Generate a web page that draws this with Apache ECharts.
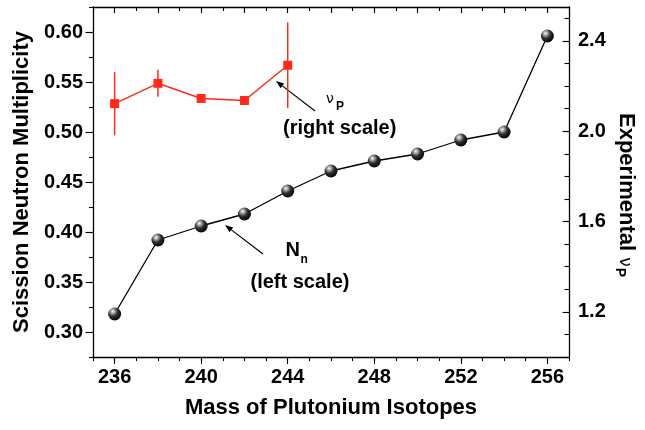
<!DOCTYPE html>
<html>
<head>
<meta charset="utf-8">
<script src="https://cdn.jsdelivr.net/npm/echarts@6/dist/echarts.min.js"></script>
<style>html,body{margin:0;padding:0;background:#fff}#c{width:645px;height:430px}</style>
</head>
<body>
<div id="c"></div>
<script>
// ---- data ----
var massN = [236, 238, 240, 242, 244, 246, 248, 250, 252, 254, 256];
var scissionN = [0.318, 0.392, 0.406, 0.418, 0.441, 0.461, 0.471, 0.478, 0.492, 0.500, 0.596];
var massNu = [236, 238, 240, 242, 244];
var nuP = [2.122, 2.212, 2.145, 2.136, 2.292];
var nuErr = [0.14, 0.06, 0, 0, 0.19];
var xLabels = [236, 240, 244, 248, 252, 256];
var xTopMajor = [236, 238, 240, 242, 244, 246, 248, 250, 252, 254, 256];
var yLeftLabels = [0.30, 0.35, 0.40, 0.45, 0.50, 0.55, 0.60];
var yRightLabels = [1.2, 1.6, 2.0, 2.4];

var FONT = '"Liberation Sans", Arial, Helvetica, sans-serif';
var RED = '#ff2a1a';
var chart = echarts.init(document.getElementById('c'), null, {renderer: 'canvas'});

var lineStyleAxis = {color: '#000', width: 1.3};
function baseAxis(o) {
  return Object.assign({
    type: 'value', splitLine: {show: false},
    axisLine: {show: true, onZero: false, lineStyle: lineStyleAxis},
    axisTick: {show: true, lineStyle: {color: '#000', width: 1.1}},
    axisLabel: {show: false}
  }, o);
}

var sphere = {
  type: 'radial', x: 0.36, y: 0.3, r: 0.75,
  colorStops: [
    {offset: 0, color: '#ffffff'},
    {offset: 0.18, color: '#b0b0b0'},
    {offset: 0.5, color: '#303030'},
    {offset: 1, color: '#000000'}
  ]
};

function arrow(tail, tip) {
  var dx = tip[0] - tail[0], dy = tip[1] - tail[1];
  var L = Math.sqrt(dx * dx + dy * dy), ux = dx / L, uy = dy / L;
  var hl = 8, hw = 3;
  var bx = tip[0] - hl * ux, by = tip[1] - hl * uy;
  var nx = -uy, ny = ux;
  return [
    {type: 'line', shape: {x1: tail[0], y1: tail[1], x2: bx, y2: by}, style: {stroke: '#000', lineWidth: 1.2}},
    {type: 'polygon', shape: {points: [[tip[0], tip[1]], [bx + hw * nx, by + hw * ny], [bx - hw * nx, by - hw * ny]]}, style: {fill: '#000'}}
  ];
}

var graphics = [].concat(
  arrow([315, 111], [276, 81]),
  arrow([263, 254], [225, 225]),
  [
    {type: 'text', x: 326, y: 99, style: {text: 'ν', font: '14px "DejaVu Sans", sans-serif', fill: '#000', textAlign: 'left', textVerticalAlign: 'middle'}},
    {type: 'text', x: 336, y: 106.5, style: {text: 'P', font: 'bold 12px ' + FONT, fill: '#000', textAlign: 'left', textVerticalAlign: 'middle'}},
    {type: 'text', x: 283, y: 128.5, style: {text: '(right scale)', font: 'bold 20px ' + FONT, fill: '#000', textAlign: 'left', textVerticalAlign: 'middle'}},
    {type: 'text', x: 285.5, y: 250, style: {text: 'N', font: 'bold 20px ' + FONT, fill: '#000', textAlign: 'left', textVerticalAlign: 'middle'}},
    {type: 'text', x: 300.5, y: 260, style: {text: 'n', font: 'bold 12px ' + FONT, fill: '#000', textAlign: 'left', textVerticalAlign: 'middle'}},
    {type: 'text', x: 250.5, y: 282, style: {text: '(left scale)', font: 'bold 20px ' + FONT, fill: '#000', textAlign: 'left', textVerticalAlign: 'middle'}},
    {type: 'text', x: 626, y: 113, rotation: -Math.PI / 2,
      style: {
        text: '{a|Experimental }{nu|ν}{p|P}',
        textAlign: 'left', textVerticalAlign: 'middle',
        rich: {
          a: {font: 'bold 22px ' + FONT, fill: '#000', lineHeight: 26, verticalAlign: 'middle'},
          nu: {font: '17px "DejaVu Sans", sans-serif', fill: '#000', lineHeight: 26, verticalAlign: 'middle', padding: [4, 0, 0, 0]},
          p: {font: 'bold 14px ' + FONT, fill: '#000', lineHeight: 14, verticalAlign: 'bottom', padding: [0, 0, 0, 1]}
        }
      }}
  ]
);

var option = {
  animation: false,
  backgroundColor: '#fff',
  grid: {left: 93, right: 76, top: 7, bottom: 73, containLabel: false},
  xAxis: [
    baseAxis({position: 'bottom', min: 235, max: 257, interval: 1,
      axisTick: {show: true, inside: false, length: 4, lineStyle: {color: '#000', width: 1.1}}}),
    baseAxis({position: 'bottom', min: 235, max: 257,
      axisLine: {show: false},
      axisTick: {show: true, inside: false, length: 7, customValues: xLabels, lineStyle: {color: '#000', width: 1.1}},
      axisLabel: {show: true, customValues: xLabels, margin: 10, color: '#000', fontFamily: FONT, fontWeight: 'bold', fontSize: 20},
      name: 'Mass of Plutonium Isotopes', nameLocation: 'middle', nameGap: 40,
      nameTextStyle: {color: '#000', fontFamily: FONT, fontWeight: 'bold', fontSize: 22}}),
    baseAxis({position: 'top', min: 235, max: 257, interval: 1,
      axisTick: {show: true, inside: true, length: 4, lineStyle: {color: '#000', width: 1.1}}}),
    baseAxis({position: 'top', min: 235, max: 257,
      axisLine: {show: false},
      axisTick: {show: true, inside: true, length: 6, customValues: xTopMajor, lineStyle: {color: '#000', width: 1.1}}})
  ],
  yAxis: [
    baseAxis({position: 'left', min: 0.275, max: 0.625, interval: 0.025,
      axisTick: {show: true, inside: false, length: 4, lineStyle: {color: '#000', width: 1.1}}}),
    baseAxis({position: 'left', min: 0.275, max: 0.625,
      axisLine: {show: false},
      axisTick: {show: true, inside: false, length: 7.5, customValues: yLeftLabels, lineStyle: {color: '#000', width: 1.1}},
      axisLabel: {show: true, customValues: yLeftLabels, margin: 10, color: '#000', fontFamily: FONT, fontWeight: 'bold', fontSize: 20,
        formatter: function (v) { return v.toFixed(2); }},
      name: 'Scission Neutron Multiplicity', nameLocation: 'middle', nameGap: 60, nameRotate: 90,
      nameTextStyle: {color: '#000', fontFamily: FONT, fontWeight: 'bold', fontSize: 22}}),
    baseAxis({position: 'right', min: 1.0, max: 2.55, interval: 0.1,
      axisTick: {show: true, inside: true, length: 4.5, lineStyle: {color: '#000', width: 1.1}}}),
    baseAxis({position: 'right', min: 1.0, max: 2.55,
      axisLine: {show: false},
      axisTick: {show: true, inside: true, length: 6.5, customValues: yRightLabels, lineStyle: {color: '#000', width: 1.1}},
      axisLabel: {show: true, customValues: yRightLabels, margin: 9, color: '#000', fontFamily: FONT, fontWeight: 'bold', fontSize: 20,
        formatter: function (v) { return v.toFixed(1); }}})
  ],
  series: [
    {
      type: 'line', xAxisIndex: 0, yAxisIndex: 0,
      data: massN.map(function (m, i) { return [m, scissionN[i]]; }),
      symbol: 'circle', symbolSize: 13,
      lineStyle: {color: '#000', width: 1.3},
      itemStyle: {color: sphere, borderWidth: 0},
      z: 3
    },
    {
      type: 'custom', xAxisIndex: 0, yAxisIndex: 2,
      data: massNu.map(function (m, i) { return [m, nuP[i] - nuErr[i], nuP[i] + nuErr[i]]; }),
      renderItem: function (params, api) {
        var p1 = api.coord([api.value(0), api.value(1)]);
        var p2 = api.coord([api.value(0), api.value(2)]);
        return {type: 'line', shape: {x1: p1[0], y1: p1[1], x2: p2[0], y2: p2[1]},
          style: {stroke: RED, lineWidth: 1.5}};
      },
      z: 4
    },
    {
      type: 'line', xAxisIndex: 0, yAxisIndex: 2,
      data: massNu.map(function (m, i) { return [m, nuP[i]]; }),
      symbol: 'rect', symbolSize: 9,
      lineStyle: {color: RED, width: 1.5},
      itemStyle: {color: RED, borderWidth: 0},
      z: 5
    }
  ],
  graphic: graphics
};
chart.setOption(option);
</script>
</body>
</html>
